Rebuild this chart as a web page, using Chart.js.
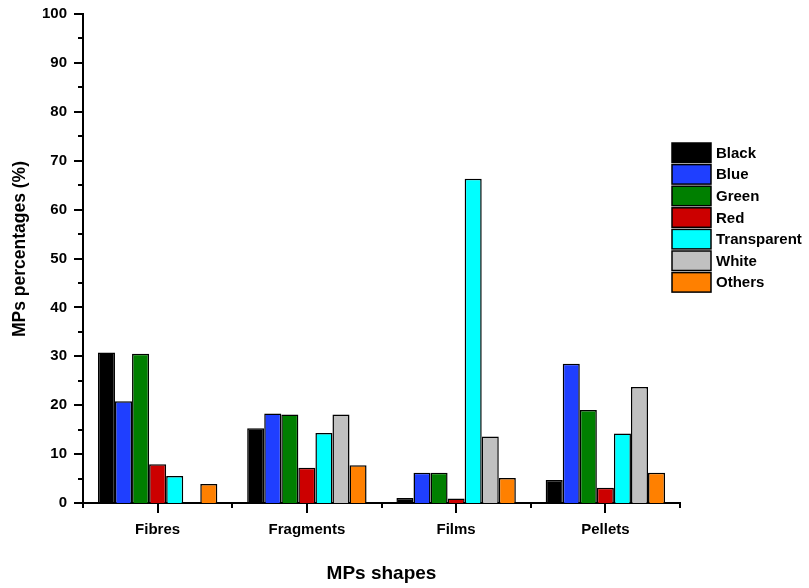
<!DOCTYPE html>
<html>
<head>
<meta charset="utf-8">
<script src="https://cdn.jsdelivr.net/npm/chart.js@4"></script>
<style>
  html, body { margin: 0; padding: 0; background: #fff; }
  canvas { display: block; }
</style>
</head>
<body>
<canvas id="c" width="809" height="588"></canvas>
<script>
// MPs shapes on the x axis
const shapes = ['Fibres', 'Fragments', 'Films', 'Pellets'];

// Percentage of each colour within every shape
const black       = [30.8, 15.3, 1.0, 4.7];
const blue        = [20.8, 18.3, 6.2, 28.5];
const green       = [30.5, 18.1, 6.2, 19.0];
const red         = [7.9, 7.2, 0.9, 3.1];
const transparent = [5.5, 14.3, 66.3, 14.2];
const white       = [0, 18.1, 13.6, 23.7];
const others      = [3.9, 7.7, 5.1, 6.2];

const colourNames = ['Black', 'Blue', 'Green', 'Red', 'Transparent', 'White', 'Others'];
const fills = ['#000000', '#1f3fff', '#007f00', '#cc0000', '#00ffff', '#c0c0c0', '#ff8000'];
const series = [black, blue, green, red, transparent, white, others];

const FONT = '"Liberation Sans", Arial, sans-serif';

// Outward major/minor ticks on both axes
const axisTicks = {
  id: 'axisTicks',
  afterDraw(chart) {
    const ctx = chart.ctx;
    const y = chart.scales.y, x = chart.scales.x;
    const area = chart.chartArea;
    ctx.save();
    ctx.strokeStyle = '#000';
    ctx.lineWidth = 2;
    ctx.beginPath();
    for (let v = 0; v <= 100; v += 5) {
      const py = Math.round(y.getPixelForValue(v));
      const len = v % 10 === 0 ? 9 : 5;
      ctx.moveTo(area.left - len, py);
      ctx.lineTo(area.left, py);
    }
    const w = (area.right - area.left) / shapes.length;
    for (let i = 0; i <= shapes.length; i++) {
      const px = Math.round(area.left + i * w);
      ctx.moveTo(px, area.bottom);
      ctx.lineTo(px, area.bottom + 5);
    }
    shapes.forEach((s, i) => {
      const px = Math.round(x.getPixelForValue(i));
      ctx.moveTo(px, area.bottom);
      ctx.lineTo(px, area.bottom + 10);
    });
    ctx.stroke();
    ctx.restore();
  }
};

// Rotated y-axis title
const yTitle = {
  id: 'yTitle',
  afterDraw(chart) {
    const ctx = chart.ctx;
    ctx.save();
    ctx.translate(20, 249);
    ctx.rotate(-Math.PI / 2);
    ctx.font = 'bold 17.5px ' + FONT;
    ctx.fillStyle = '#000';
    ctx.textAlign = 'center';
    ctx.textBaseline = 'middle';
    ctx.fillText('MPs percentages (%)', 0, 0);
    ctx.restore();
  }
};

// Legend block drawn at the right of the plot
const sideLegend = {
  id: 'sideLegend',
  afterDraw(chart) {
    const ctx = chart.ctx;
    const left = 672, top = 143, boxW = 39, boxH = 19.5, step = 21.6;
    ctx.save();
    ctx.font = 'bold 15px ' + FONT;
    ctx.textBaseline = 'middle';
    ctx.textAlign = 'left';
    chart.data.datasets.forEach((ds, i) => {
      const y0 = top + i * step;
      ctx.fillStyle = ds.backgroundColor;
      ctx.fillRect(left, y0, boxW, boxH);
      ctx.strokeStyle = '#000';
      ctx.lineWidth = 1.5;
      ctx.strokeRect(left, y0, boxW, boxH);
      ctx.fillStyle = '#000';
      ctx.fillText(ds.label, left + boxW + 5, y0 + boxH / 2 + 1);
    });
    ctx.restore();
  }
};

new Chart(document.getElementById('c'), {
  type: 'bar',
  data: {
    labels: shapes,
    datasets: colourNames.map((name, i) => ({
      label: name,
      data: series[i],
      backgroundColor: fills[i],
      borderColor: '#000',
      borderWidth: 1.5,
      borderSkipped: 'start',
      categoryPercentage: 0.8,
      barPercentage: 1.0
    }))
  },
  options: {
    responsive: false,
    devicePixelRatio: 1,
    animation: false,
    layout: { padding: { left: 10, right: 129, top: 14, bottom: 3 } },
    plugins: {
      legend: { display: false },
      tooltip: { enabled: false }
    },
    scales: {
      x: {
        grid: { display: false },
        border: { display: true, color: '#000', width: 2 },
        ticks: { color: '#000', font: { family: FONT, size: 15, weight: 'bold' }, padding: 10 },
        title: {
          display: true, text: 'MPs shapes', color: '#000',
          font: { family: FONT, size: 19, weight: 'bold' }, padding: { top: 22, bottom: 0 }
        },
        afterFit(scale) {
          scale.height = 588 - 503 - 3;
          scale.paddingLeft = 0;
          scale.paddingRight = 0;
        }
      },
      y: {
        min: 0, max: 100,
        grid: { display: false },
        border: { display: true, color: '#000', width: 2 },
        ticks: { stepSize: 10, color: '#000', font: { family: FONT, size: 15, weight: 'bold' }, padding: 8 },
        afterFit(scale) {
          scale.width = 83 - 10;
          scale.paddingTop = 0;
          scale.paddingBottom = 0;
        }
      }
    }
  },
  plugins: [axisTicks, yTitle, sideLegend]
});
</script>
</body>
</html>
